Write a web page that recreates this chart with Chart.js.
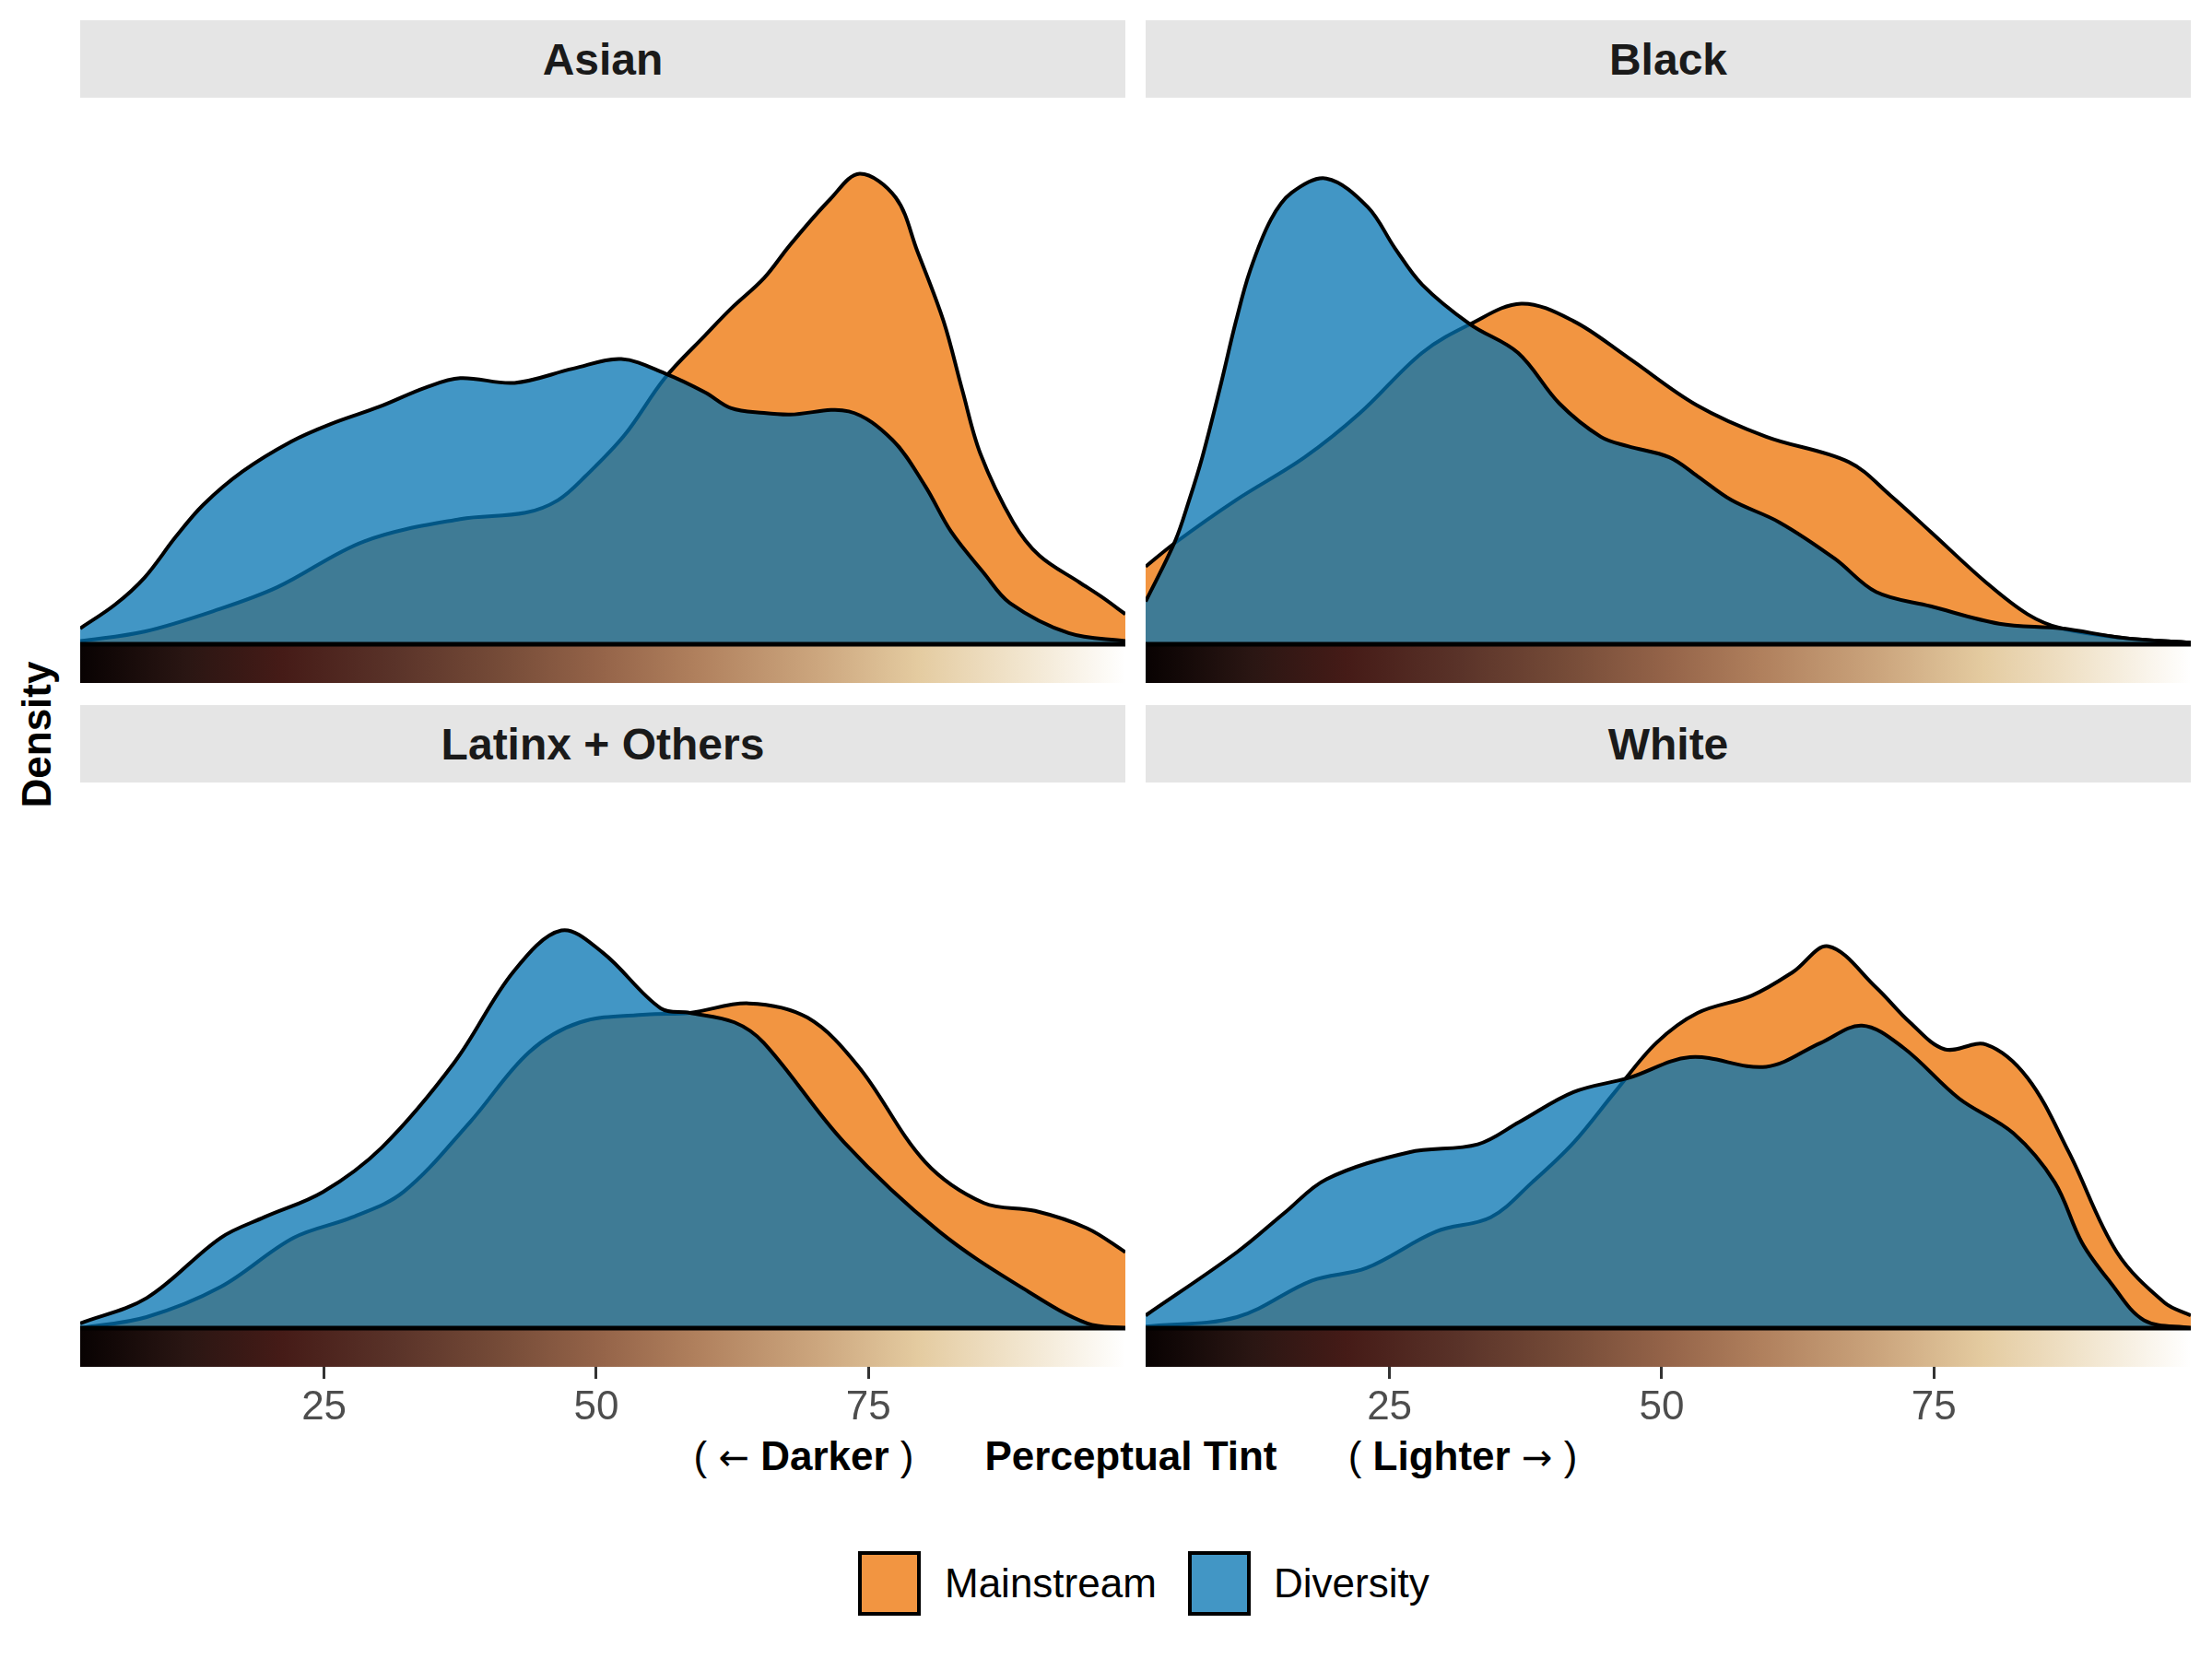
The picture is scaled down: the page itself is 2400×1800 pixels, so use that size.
<!DOCTYPE html>
<html>
<head>
<meta charset="utf-8">
<script src="https://cdn.jsdelivr.net/npm/chart.js@4.4.1/dist/chart.umd.min.js"></script>
<style>
  body { margin: 0; width: 2400px; height: 1800px; background: #fff; position: relative; overflow: hidden;
         font-family: "Liberation Sans", Arial, sans-serif; }
  .strip { position: absolute; background: #e5e5e5; color: #1a1a1a; font-weight: bold; font-size: 48px;
           display: flex; align-items: center; justify-content: center; }
  canvas { position: absolute; }
  .lbl { position: absolute; transform: translate(-50%, -50%); white-space: nowrap; font-size: 44px; color: #000; }
  .arr { font-family: "DejaVu Sans", sans-serif; font-size: 40px; }
  .key { position: absolute; box-sizing: border-box; border: 4px solid #000; width: 68px; height: 70px; }
  .ktxt { position: absolute; font-size: 44px; line-height: 50px; color: #000; }
</style>
</head>
<body>
<div id="wrap"></div>
<div class="lbl" style="left:40px;top:797px;font-weight:bold;transform:translate(-50%,-50%) rotate(-90deg);">Density</div>
<div class="lbl" style="left:872px;top:1580px;">( <span class="arr">←</span> <b>Darker</b> )</div>
<div class="lbl" style="left:1227px;top:1580px;font-weight:bold;">Perceptual Tint</div>
<div class="lbl" style="left:1587px;top:1580px;">( <b>Lighter</b> <span class="arr">→</span> )</div>

<div class="key" style="left:931px;top:1683px;background:rgba(238,114,2,0.75);"></div>
<div class="ktxt" style="left:1025px;top:1693px;">Mainstream</div>
<div class="key" style="left:1289px;top:1683px;background:rgba(3,115,178,0.75);"></div>
<div class="ktxt" style="left:1382px;top:1693px;">Diversity</div>

<script>
// facets and axis
var facets = ['Asian', 'Black', 'Latinx + Others', 'White'];
var tintTicks = [25, 50, 75];
var tintRange = [2.6, 98.6];
var densityMax = 0.0345;

// skin tint colour band under each panel
var bandTint  = [2.6, 12.4, 21.1, 31.5, 40.7, 50.6, 59.2, 70.3, 79.5, 88.7, 98.6];
var bandColor = ['#080202', '#2a1613', '#451b17', '#5a3329', '#744a37', '#956449',
                 '#b0805d', '#cca67e', '#e4cba0', '#f1e4cc', '#ffffff'];

// density curves [tint, density]
var asianMainstream = [[2.6,0.0002],[8.5,0.0008],[15.3,0.0022],[20.7,0.0036],[28.7,0.0065],[37.5,0.0079],
  [43.5,0.0083],[46.5,0.0091],[49,0.0106],[52.6,0.0132],[56.3,0.0168],[60,0.0195],[62.4,0.0212],
  [65.4,0.0231],[67.8,0.0252],[71.5,0.0281],[74.2,0.0297],[77.5,0.0282],[79.5,0.0248],[81.9,0.0204],
  [83.6,0.0161],[85.3,0.0120],[88.3,0.0077],[90.7,0.0056],[94.4,0.0039],[96.4,0.0030],[98.6,0.0019]];
var asianDiversity = [[2.6,0.0010],[5.8,0.0025],[8.5,0.0042],[11.4,0.0068],[13.9,0.0088],[17.5,0.0109],
  [22,0.0128],[25.6,0.0139],[30.1,0.0150],[34.3,0.0162],[37.5,0.0168],[42.5,0.0165],[47.9,0.0174],
  [52.3,0.0180],[56.3,0.0171],[60,0.0159],[62.4,0.0149],[65.4,0.0146],[67.8,0.0145],[73.2,0.0147],
  [77.2,0.0129],[80.2,0.0100],[82.6,0.0071],[85.6,0.0045],[88,0.0026],[93.4,0.0007],[98.6,0.0002]];

var blackMainstream = [[2.6,0.0049],[5.3,0.0064],[10.9,0.0091],[17.2,0.0118],[22.3,0.0146],[28,0.0184],
  [32.4,0.0202],[37.1,0.0215],[41.9,0.0204],[46.9,0.0181],[53.2,0.0151],[59.6,0.0131],[67.2,0.0115],
  [71,0.0094],[74.7,0.0071],[79.8,0.0039],[83.6,0.0019],[86.7,0.0010],[92.4,0.0004],[98.6,0.0001]];
var blackDiversity = [[2.6,0.0027],[5.3,0.0065],[6.6,0.0091],[7.8,0.0118],[9.4,0.0161],[10.9,0.0204],
  [12.2,0.0236],[14.1,0.0268],[16,0.0285],[19.2,0.0294],[23,0.0276],[25.5,0.0250],[28,0.0227],
  [32.4,0.0202],[36.8,0.0184],[40.6,0.0152],[44.4,0.0131],[46.9,0.0125],[50.7,0.0118],[53.3,0.0106],
  [56.4,0.0091],[60.8,0.0077],[65.9,0.0054],[69.7,0.0033],[74.7,0.0024],[81,0.0013],[86.7,0.0010],
  [92.4,0.0004],[98.6,0.0001]];

var latinxMainstream = [[2.6,0.0000],[8.7,0.0007],[15.5,0.0026],[22.2,0.0057],[27.6,0.0070],[32.3,0.0086],
  [38.4,0.0130],[43.8,0.0174],[48.5,0.0193],[54.6,0.0198],[58.6,0.0199],[64,0.0205],[69.4,0.0196],
  [74.1,0.0165],[80.2,0.0105],[85.6,0.0079],[90.3,0.0074],[95.1,0.0063],[98.6,0.0048]];
var latinxDiversity = [[2.6,0.0003],[8.7,0.0019],[15.5,0.0057],[19.5,0.0070],[24.9,0.0086],[30.3,0.0114],
  [37,0.0168],[42.4,0.0225],[46.8,0.0251],[50.6,0.0237],[55.9,0.0202],[58.6,0.0199],[62.7,0.0193],
  [65.4,0.0180],[72.8,0.0117],[81.5,0.0061],[89.7,0.0023],[95.1,0.0003],[98.6,0.0000]];

var whiteMainstream = [[2.6,0.0001],[11,0.0007],[17.9,0.0030],[22.9,0.0038],[29.3,0.0061],[34.3,0.0070],
  [38.1,0.0092],[41.9,0.0117],[45.7,0.0149],[49.5,0.0180],[53.3,0.0199],[58.3,0.0210],[62.1,0.0225],
  [65.3,0.0241],[69.7,0.0215],[72.8,0.0193],[76,0.0176],[79.8,0.0179],[83.6,0.0158],[87.4,0.0111],
  [91.8,0.0048],[96.2,0.0016],[98.6,0.0008]];
var whiteDiversity = [[2.6,0.0008],[11,0.0048],[15.4,0.0073],[19.2,0.0094],[26.8,0.0111],[33.1,0.0116],
  [36.9,0.0130],[41.9,0.0149],[47,0.0158],[52.6,0.0171],[59.6,0.0165],[64.6,0.0180],[68.4,0.0191],
  [72.2,0.0177],[77.3,0.0145],[82.3,0.0123],[86.1,0.0092],[88.6,0.0054],[91.2,0.0029],[94.3,0.0005],
  [98.6,0.0000]];

var mainstream = [asianMainstream, blackMainstream, latinxMainstream, whiteMainstream];
var diversity = [asianDiversity, blackDiversity, latinxDiversity, whiteDiversity];

// layout (px)
var colLeft = [87, 1243];
var stripTop = [22, 765];
var plotTop = [106, 848];
var panelW = 1134, stripH = 84, plotH = 593, bandH = 42, axisH = 72;
var densityMin = -densityMax * bandH / plotH;

var tintBand = {
  id: 'tintBand',
  beforeDatasetsDraw: function(chart) {
    var ctx = chart.ctx, area = chart.chartArea, x = chart.scales.x, y = chart.scales.y;
    var y0 = y.getPixelForValue(0);
    var g = ctx.createLinearGradient(x.getPixelForValue(tintRange[0]), 0, x.getPixelForValue(tintRange[1]), 0);
    for (var i = 0; i < bandTint.length; i++) {
      g.addColorStop((bandTint[i] - tintRange[0]) / (tintRange[1] - tintRange[0]), bandColor[i]);
    }
    ctx.save();
    ctx.fillStyle = g;
    ctx.fillRect(area.left, y0, area.right - area.left, area.bottom - y0);
    ctx.restore();
  },
  afterDatasetsDraw: function(chart) {
    var ctx = chart.ctx, area = chart.chartArea, y0 = chart.scales.y.getPixelForValue(0);
    ctx.save();
    ctx.strokeStyle = '#000';
    ctx.lineWidth = 5;
    ctx.beginPath();
    ctx.moveTo(area.left, y0);
    ctx.lineTo(area.right, y0);
    ctx.stroke();
    ctx.restore();
  }
};

function toPoints(arr) {
  return arr.map(function(p) { return { x: p[0], y: p[1] }; });
}

var wrap = document.getElementById('wrap');
facets.forEach(function(name, i) {
  var col = i % 2, row = Math.floor(i / 2), bottom = row === 1;

  var strip = document.createElement('div');
  strip.className = 'strip';
  strip.style.left = colLeft[col] + 'px';
  strip.style.top = stripTop[row] + 'px';
  strip.style.width = panelW + 'px';
  strip.style.height = stripH + 'px';
  strip.textContent = name;
  wrap.appendChild(strip);

  var cv = document.createElement('canvas');
  var h = plotH + bandH + (bottom ? axisH : 0);
  cv.width = panelW; cv.height = h;
  cv.style.left = colLeft[col] + 'px';
  cv.style.top = plotTop[row] + 'px';
  cv.style.width = panelW + 'px';
  cv.style.height = h + 'px';
  wrap.appendChild(cv);

  var xScale = {
    type: 'linear',
    min: tintRange[0],
    max: tintRange[1],
    display: bottom,
    border: { display: false },
    grid: { display: true, drawOnChartArea: false, drawTicks: true, tickLength: 13, color: '#333333', lineWidth: 3 },
    ticks: { color: '#4d4d4d', padding: 5, font: { family: 'Liberation Sans', size: 44 } },
    afterBuildTicks: function(s) { s.ticks = tintTicks.map(function(v) { return { value: v }; }); }
  };
  if (bottom) {
    xScale.afterFit = function(s) { s.height = axisH; };
  }

  new Chart(cv.getContext('2d'), {
    type: 'line',
    data: {
      datasets: [{
        label: 'Diversity',
        data: toPoints(diversity[i]),
        backgroundColor: 'rgba(3,115,178,0.75)',
        borderColor: '#000',
        borderWidth: 4,
        fill: 'origin'
      }, {
        label: 'Mainstream',
        data: toPoints(mainstream[i]),
        backgroundColor: 'rgba(238,114,2,0.75)',
        borderColor: '#000',
        borderWidth: 4,
        fill: 'origin'
      }]
    },
    options: {
      responsive: false,
      animation: false,
      devicePixelRatio: 1,
      events: [],
      layout: { padding: 0 },
      elements: { point: { radius: 0 }, line: { tension: 0.35, capBezierPoints: true } },
      plugins: { legend: { display: false }, tooltip: { enabled: false } },
      scales: {
        x: xScale,
        y: { display: false, min: densityMin, max: densityMax }
      }
    },
    plugins: [tintBand]
  });
});
</script>
</body>
</html>
